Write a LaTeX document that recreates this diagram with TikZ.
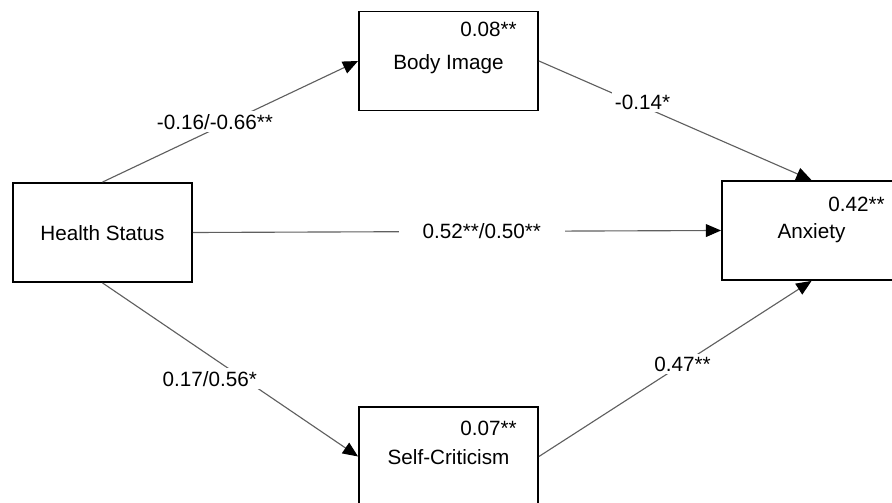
\documentclass[tikz,border=0pt]{standalone}
\usepackage{fontspec}
\setmainfont{Liberation Sans}
\usetikzlibrary{arrows.meta}
\definecolor{linegray}{RGB}{95,95,95}
\tikzstyle{factor}=[draw, line width=1.3pt, minimum width=4.475cm,
minimum height=2.475cm, inner sep=0pt, text height=12pt, text depth=0pt]
\tikzstyle{coef}=[anchor=base east, inner sep=0pt]
\tikzstyle{estimate}=[fill=white, inner sep=2pt]

\begin{document}
\begin{tikzpicture}
	[x=0.025cm, y=-0.025cm, font=\fontsize{14.7}{17}\selectfont,
	>={Triangle[length=0.38cm, width=0.32cm, black]},
	path/.style = {->, draw=linegray, line width=0.8pt}]
	\useasboundingbox (0,0) rectangle (892,503);
	\clip (0,0) rectangle (892,503);
	\node[factor] (1) at (102.5,232.5) {Health Status};
	\node[factor] (2) at (448.5,61) {Body Image};
	\node[factor] (3) at (811.5,230.5) {Anxiety};
	\node[factor] (4) at (448.5,456.5) {Self-Criticism};

	% explained variance
	\node[coef] (r2) at (517,37) {0.08**};
	\node[coef] (r3) at (885,212) {0.42**};
	\node[coef] (r4) at (517,435) {0.07**};

	\draw[path] (1.north) to node[estimate, pos=0.44, yshift=0.175cm] {-0.16/-0.66**} (2.west);
	\draw[path] (2.east) to node[estimate, pos=0.38, yshift=0.1cm] {-0.14*} (3.north);
	\draw[path] (1.east) to node[estimate, pos=0.547, inner xsep=0.6cm] {0.52**/0.50**} (3.west);
	\draw[path] (1.south) to node[estimate, pos=0.42, yshift=-0.575cm] {0.17/0.56*} (4.west);
	\draw[path] (4.east) to node[estimate, pos=0.527] {0.47**} (3.south);
\end{tikzpicture}
\end{document}
